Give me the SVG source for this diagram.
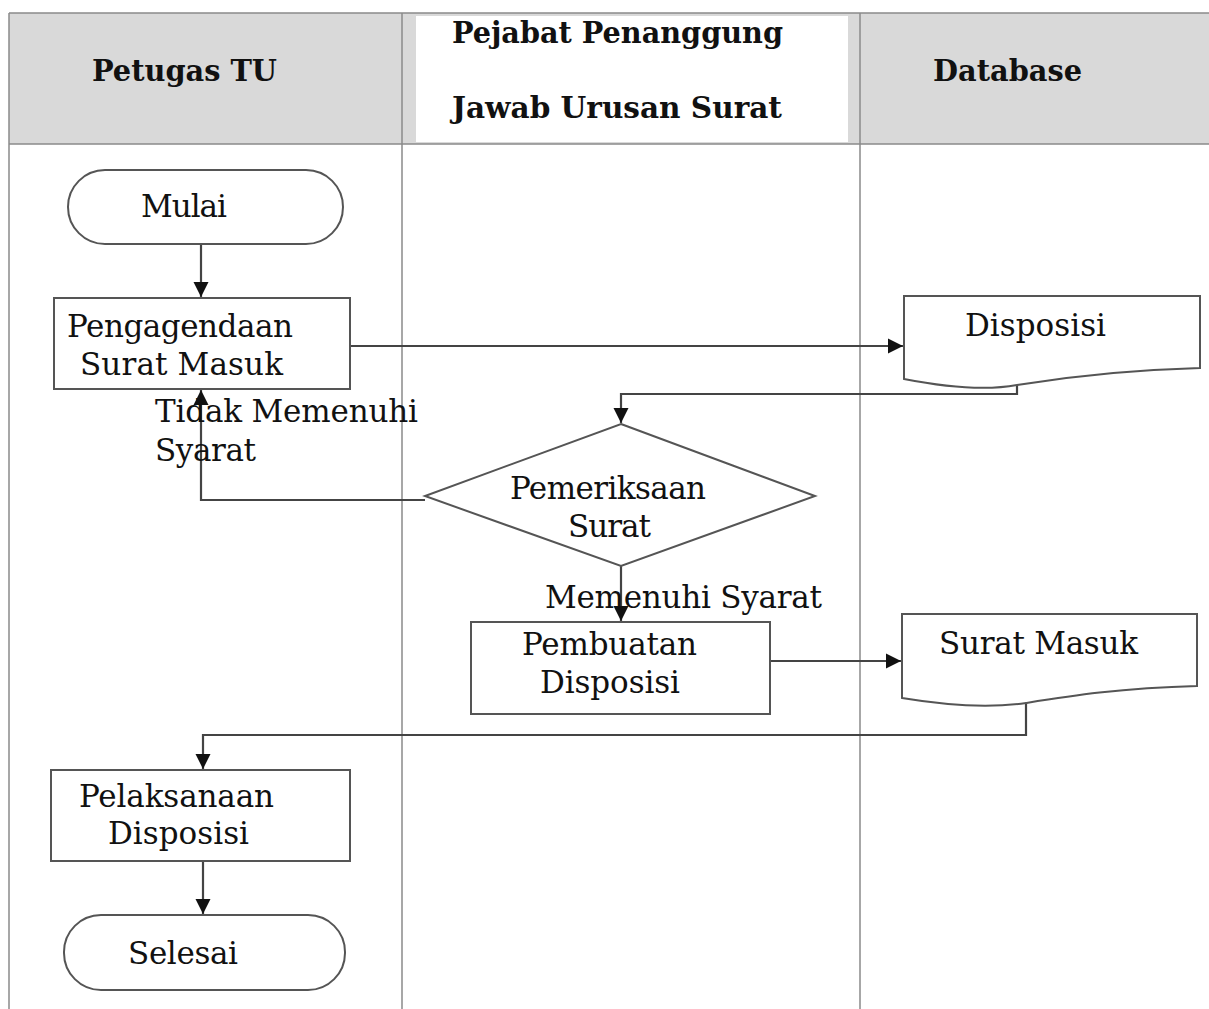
<svg xmlns="http://www.w3.org/2000/svg" width="1209" height="1009" viewBox="0 0 1209 1009">
<defs>
<marker id="ah" viewBox="0 0 10 10" refX="10" refY="5" markerWidth="7" markerHeight="7" markerUnits="strokeWidth" orient="auto">
<path d="M0,0 L10,5 L0,10 z" fill="#111"/>
</marker>
<style>
.grid{stroke:#8a8a8a;stroke-width:1.5;fill:none}
.hdr{font-family:"DejaVu Serif Condensed","DejaVu Serif","Liberation Serif",serif;font-weight:bold;font-size:30px;fill:#111}
.shape{fill:#fff;stroke:#555;stroke-width:2}
.t{font-family:"DejaVu Serif","Liberation Serif",serif;font-size:31px;fill:#111}
.c{stroke:#444;stroke-width:2.2;fill:none}
</style>
</defs>
<rect x="0" y="0" width="1209" height="1009" fill="#fff"/>
<g id="lanes">
<rect x="9" y="13" width="393" height="131" fill="#d9d9d9"/>
<rect x="402" y="13" width="458" height="131" fill="#d9d9d9"/>
<rect x="416" y="16" width="432" height="126" fill="#fff"/>
<rect x="860" y="13" width="349" height="131" fill="#d9d9d9"/>
<line class="grid" x1="9" y1="13" x2="1209" y2="13"/>
<line class="grid" x1="9" y1="144" x2="1209" y2="144"/>
<line class="grid" x1="9" y1="13" x2="9" y2="1009"/>
<line class="grid" x1="402" y1="13" x2="402" y2="1009"/>
<line class="grid" x1="860" y1="13" x2="860" y2="1009"/>
<text class="hdr" x="92" y="81" textLength="185" lengthAdjust="spacingAndGlyphs">Petugas TU</text>
<text class="hdr" x="452" y="43" textLength="331" lengthAdjust="spacingAndGlyphs">Pejabat Penanggung</text>
<text class="hdr" x="452" y="118" textLength="330" lengthAdjust="spacingAndGlyphs">Jawab Urusan Surat</text>
<text class="hdr" x="933" y="81" textLength="149" lengthAdjust="spacingAndGlyphs">Database</text>
</g>
<g id="connectors">
<line class="c" x1="201" y1="244" x2="201" y2="297" marker-end="url(#ah)"/>
<line class="c" x1="350" y1="346" x2="903" y2="346" marker-end="url(#ah)"/>
<polyline class="c" points="1017,385 1017,394 621,394 621,423" marker-end="url(#ah)"/>
<polyline class="c" points="425,500 201,500 201,390" marker-end="url(#ah)"/>
<line class="c" x1="621" y1="566" x2="621" y2="621" marker-end="url(#ah)"/>
<line class="c" x1="770" y1="661" x2="901" y2="661" marker-end="url(#ah)"/>
<polyline class="c" points="1026,703 1026,735 203,735 203,769" marker-end="url(#ah)"/>
<line class="c" x1="203" y1="862" x2="203" y2="914" marker-end="url(#ah)"/>
</g>
<g id="mulai">
<rect class="shape" x="68" y="170" width="275" height="74" rx="37" ry="37"/>
<text class="t" x="141" y="217" textLength="86">Mulai</text>
</g>
<g id="pengagendaan">
<rect class="shape" x="54" y="298" width="296" height="91"/>
<text class="t" x="67" y="337" textLength="226">Pengagendaan</text>
<text class="t" x="80" y="375" textLength="203">Surat Masuk</text>
</g>
<g id="disposisi-doc">
<path class="shape" d="M904,296 L1200,296 L1200,368 C1120,370 1060,378 1017,385 C990,390 950,388 904,379 Z"/>
<text class="t" x="965" y="336" textLength="141">Disposisi</text>
</g>
<g id="pemeriksaan">
<polygon class="shape" points="621,424 815,496 621,566 425,496"/>
<text class="t" x="510" y="499" textLength="196">Pemeriksaan</text>
<text class="t" x="568" y="537" textLength="83">Surat</text>
</g>
<g id="pembuatan">
<rect class="shape" x="471" y="622" width="299" height="92"/>
<text class="t" x="522" y="655" textLength="175">Pembuatan</text>
<text class="t" x="540" y="693" textLength="140">Disposisi</text>
</g>
<g id="suratmasuk-doc">
<path class="shape" d="M902,614 L1197,614 L1197,686 C1120,688 1070,696 1026,703 C990,708 950,706 902,698 Z"/>
<text class="t" x="939" y="654" textLength="199">Surat Masuk</text>
</g>
<g id="pelaksanaan">
<rect class="shape" x="51" y="770" width="299" height="91"/>
<text class="t" x="79" y="807" textLength="195">Pelaksanaan</text>
<text class="t" x="108" y="844" textLength="141">Disposisi</text>
</g>
<g id="selesai">
<rect class="shape" x="64" y="915" width="281" height="75" rx="37" ry="37"/>
<text class="t" x="128" y="964" textLength="110">Selesai</text>
</g>
<g id="labels">
<text class="t" x="155" y="422" textLength="263">Tidak Memenuhi</text>
<text class="t" x="155" y="461" textLength="101">Syarat</text>
<text class="t" x="545" y="608" textLength="277">Memenuhi Syarat</text>
</g>
</svg>
